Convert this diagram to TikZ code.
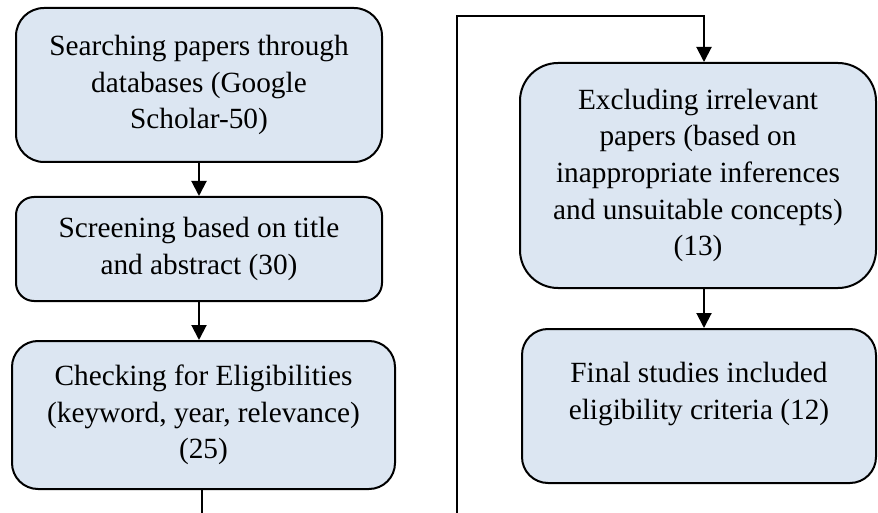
\documentclass[tikz,border=0pt]{standalone}
\usepackage{fontspec}
\setmainfont{Liberation Serif}
\usetikzlibrary{arrows.meta,calc}
\definecolor{boxfill}{HTML}{DCE6F2}
\tikzset{
  flowbox/.style={draw=black, line width=2pt, fill=boxfill, align=center, inner sep=0pt,
    font=\fontsize{29.3}{36.7}\selectfont},
  flowtext/.style={align=center, inner sep=0pt, font=\fontsize{29.3}{36.7}\selectfont},
  conn/.style={line width=2pt, -{Triangle[length=15pt,width=15pt]}},
  plain/.style={line width=2pt}
}
\begin{document}
\begin{tikzpicture}[x=1pt,y=-1pt]
\useasboundingbox (0,0) rectangle (878,513);
% boxes
\node[flowbox, rounded corners=28pt, minimum width=366pt, minimum height=154pt] (b1) at (199,85)
  {Searching papers through\\databases (Google\\Scholar-50)};
\node[flowbox, rounded corners=18pt, minimum width=366pt, minimum height=104pt] (b2) at (199,249)
  {Screening based on title\\and abstract (30)};
\node[flowbox, rounded corners=26pt, minimum width=383pt, minimum height=148pt] (b3) at (203.5,415)
  {Checking for Eligibilities\\(keyword, year, relevance)\\(25)};
\node[flowbox, rounded corners=38pt, minimum width=356pt, minimum height=225pt] (b4) at (698,175.5)
  {Excluding irrelevant\\papers (based on\\inappropriate inferences\\and unsuitable concepts)\\(13)};
\node[flowbox, rounded corners=26pt, minimum width=354pt, minimum height=154pt] (b5) at (699,406) {};
\node[flowtext] (t5) at (699,394) {Final studies included\\eligibility criteria (12)};
% connectors
\draw[conn] (b1.south) -- (b2.north);
\draw[conn] (b2.south) -- (b2.south |- b3.north);
\coordinate (b3out) at (202,513);
\draw[plain] (b3.south -| b3out) -- (b3out);
\coordinate (loopbot) at (457,513);
\coordinate (looptop) at (457,16);
\coordinate (b4in) at (704,16);
\draw[conn] (loopbot) -- (looptop) -- (b4in) -- (b4in |- b4.north);
\draw[conn] (b4.south -| b4in) -- (b4in |- b5.north);
\end{tikzpicture}
\end{document}
